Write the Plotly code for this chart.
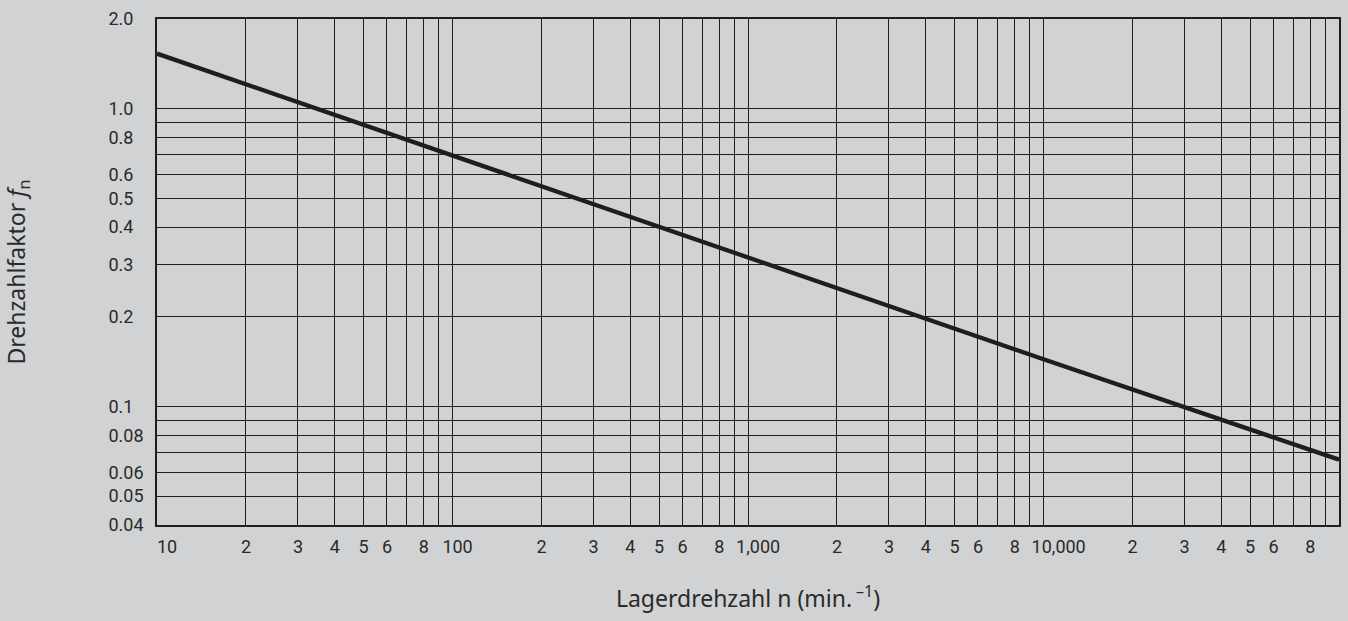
import math
import plotly.graph_objects as go

# ---- data ----
speed_n = [10, 100, 1000, 10000, 100000]
factor_fn = [1.53, 0.695, 0.315, 0.144, 0.0663]

x_tickvals = [10, 20, 30, 40, 50, 60, 70, 80, 90,
              100, 200, 300, 400, 500, 600, 700, 800, 900,
              1000, 2000, 3000, 4000, 5000, 6000, 7000, 8000, 9000,
              10000, 20000, 30000, 40000, 50000, 60000, 70000, 80000, 90000]
x_ticktext = ["10", "2", "3", "4", "5", "6", "", "8", "",
              "100", "2", "3", "4", "5", "6", "", "8", "",
              "1,000", "2", "3", "4", "5", "6", "", "8", "",
              "10,000", "2", "3", "4", "5", "6", "", "8", ""]

y_tickvals = [0.04, 0.05, 0.06, 0.07, 0.08, 0.09, 0.1, 0.2, 0.3, 0.4,
              0.5, 0.6, 0.7, 0.8, 0.9, 1.0, 2.0]
y_ticktext = ["0.04", "0.05", "0.06", "", "0.08", "", "0.1", "0.2", "0.3", "0.4",
              "0.5", "0.6", "", "0.8", "", "1.0", "2.0"]

x_title = "Lagerdrehzahl n (min.\u2009<sup>\u20131</sup>)"
y_title = "Drehzahlfaktor <i>f</i><sub>n</sub>"

# ---- styling ----
BG = "#d1d2d4"
INK = "#1e1e1e"
TICK_FONT = dict(family="Roboto, Liberation Sans, sans-serif", size=18, color="#2a2a2a")
TITLE_FONT = dict(family="Noto Sans, Open Sans, DejaVu Sans", size=23, color="#2a2a2a")

FS = "\u2007"  # figure space (digit width) for label alignment


def pad_x(t):
    # emulate the reference's right-shifted multi-digit labels (leading padding)
    if t == "10":
        return FS * 2 + t
    if t == "100":
        return FS + t
    if t == "1,000":
        return FS * 2 + t
    if t == "10,000":
        return FS * 3 + t
    return t


def pad_y(t):
    # left-aligned look: pad shorter labels with trailing figure spaces
    if t == "":
        return t
    ndig = len(t.replace(".", ""))
    return t + FS * (3 - ndig)


fig = go.Figure()
fig.add_trace(go.Scatter(
    x=speed_n, y=factor_fn, mode="lines",
    line=dict(color=INK, width=4.3),
    hoverinfo="skip", showlegend=False,
))

fig.update_layout(
    width=1348, height=621,
    paper_bgcolor=BG, plot_bgcolor=BG,
    margin=dict(l=157, r=9, t=19, b=96, autoexpand=False),
    showlegend=False,
)

fig.update_xaxes(
    type="log", range=[1, 5],
    tickmode="array", tickvals=x_tickvals, ticktext=[pad_x(t) for t in x_ticktext],
    tickangle=0,
    showgrid=True, gridcolor=INK, gridwidth=1.4,
    showline=True, linecolor=INK, linewidth=1.6, mirror=True,
    ticks="", tickfont=TICK_FONT, ticklabelstandoff=5,
    zeroline=False, automargin=False,
    title=dict(text=x_title, font=TITLE_FONT, standoff=34),
)

fig.update_yaxes(
    type="log", range=[math.log10(0.04), math.log10(2.0)],
    tickmode="array", tickvals=y_tickvals, ticktext=[pad_y(t) for t in y_ticktext],
    showgrid=True, gridcolor=INK, gridwidth=1.4,
    showline=True, linecolor=INK, linewidth=1.6, mirror=True,
    ticks="", tickfont=TICK_FONT, ticklabelstandoff=8,
    zeroline=False, automargin=False,
    title=dict(text=y_title, font=TITLE_FONT, standoff=76),
)

fig.write_html(
    "out.html",
    config={"displayModeBar": False},
    post_script="document.body.style.margin='0';document.body.style.padding='0';",
)
